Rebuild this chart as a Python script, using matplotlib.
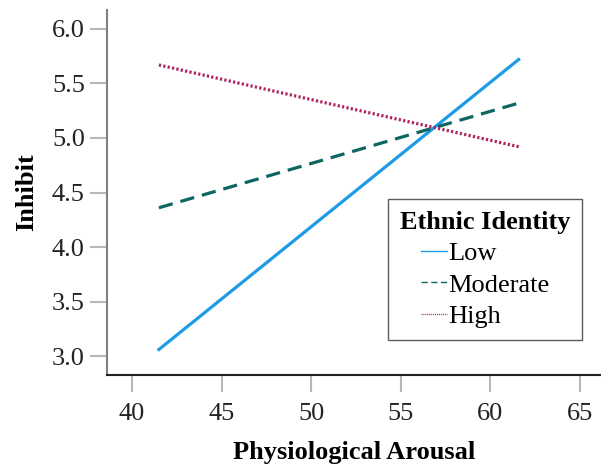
import matplotlib
matplotlib.use("Agg")
import matplotlib.pyplot as plt

# simple slopes of Inhibit on arousal at three identity levels
arousal = [41.5, 61.6]
low = [3.06, 5.72]
moderate = [4.36, 5.32]
high = [5.67, 4.92]
labels = ["Low", "Moderate", "High"]
xticks = [40, 45, 50, 55, 60, 65]
yticks = [3.0, 3.5, 4.0, 4.5, 5.0, 5.5, 6.0]

plt.rcParams["font.family"] = "Liberation Serif"

fig = plt.figure(figsize=(6.01, 4.65), dpi=100)
ax = fig.add_axes([0.178, 0.1935, 0.822, 0.785])

ax.plot(arousal, low, color="#1f9be6", lw=2.3, ls="-", label=labels[0])
ax.plot(arousal, moderate, color="#0e6660", lw=2.3, ls=(0, (4.5, 2.5)), label=labels[1])
ax.plot(arousal, high, color="#b02461", lw=2.3, ls=(0, (0.7, 0.7)), label=labels[2])

ax.set_xlim(38.6, 66.2)
ax.set_ylim(2.826, 6.174)
ax.set_xticks(xticks)
ax.set_yticks(yticks)
ax.set_yticklabels([f"{v:.1f}" for v in yticks])

ax.spines["top"].set_visible(False)
ax.spines["right"].set_visible(False)
ax.spines["left"].set_color("#808080")
ax.spines["left"].set_linewidth(1.5)
ax.spines["bottom"].set_color("#222222")
ax.spines["bottom"].set_linewidth(1.5)
ax.tick_params(axis="both", colors="#b8b8b8", length=12, width=1.5, labelsize=19,
               labelcolor="#222222", pad=4)
ax.tick_params(axis="x", pad=8)

ax.set_xlabel("Physiological Arousal", fontsize=19, fontweight="bold", labelpad=12)
ax.set_ylabel("Inhibit", fontsize=19, fontweight="bold", labelpad=10)

leg = ax.legend(title="Ethnic Identity", loc="upper left",
                bbox_to_anchor=(388 / 601, 1 - 199 / 465), bbox_transform=fig.transFigure,
                fontsize=19, title_fontproperties={"weight": "bold", "size": 19},
                frameon=True, fancybox=False, handlelength=1.0, handletextpad=0.05,
                borderpad=0.45, labelspacing=0.3, borderaxespad=0)
leg.get_frame().set_edgecolor("#333333")
leg.get_frame().set_linewidth(1.0)
for line in leg.get_lines():
    line.set_linewidth(1.0)

fig.savefig("out.png", dpi=100)
